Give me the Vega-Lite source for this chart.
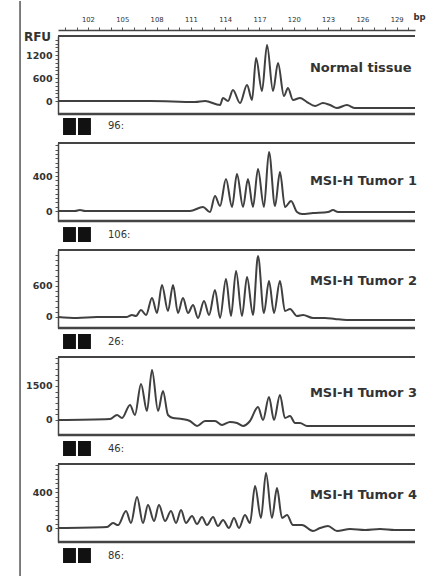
{
  "$schema": "https://vega.github.io/schema/vega-lite/v6.json",
  "background": "white",
  "padding": {"left": 19, "top": 0, "right": 0, "bottom": 0},
  "bounds": "flush",
  "spacing": 29,
  "resolve": {"scale": {"x": "independent", "y": "independent"}},
  "config": {"view": {"stroke": null}, "axis": {"grid": false, "labelOverlap": false}},
  "datasets": {
    "p1": [{"bp":99.38,"rfu":0},{"bp":107.43,"rfu":0},{"bp":111.36,"rfu":-26},{"bp":112.24,"rfu":0},{"bp":113.55,"rfu":-104},{"bp":113.81,"rfu":78},{"bp":114.25,"rfu":0},{"bp":114.68,"rfu":287},{"bp":115.3,"rfu":-52},{"bp":115.91,"rfu":418},{"bp":116.35,"rfu":26},{"bp":116.7,"rfu":1122},{"bp":117.22,"rfu":261},{"bp":117.66,"rfu":1462},{"bp":118.18,"rfu":261},{"bp":118.62,"rfu":992},{"bp":119.14,"rfu":130},{"bp":119.49,"rfu":339},{"bp":119.93,"rfu":26},{"bp":120.54,"rfu":78},{"bp":121.15,"rfu":-26},{"bp":121.86,"rfu":-130},{"bp":122.55,"rfu":-52},{"bp":123.17,"rfu":-104},{"bp":123.78,"rfu":-183},{"bp":124.65,"rfu":-104},{"bp":125.35,"rfu":-183},{"bp":130.6,"rfu":-183}],
    "p2": [{"bp":99.38,"rfu":0},{"bp":100.87,"rfu":0},{"bp":101.3,"rfu":11},{"bp":101.74,"rfu":0},{"bp":110.92,"rfu":0},{"bp":112.06,"rfu":46},{"bp":112.67,"rfu":-11},{"bp":113.11,"rfu":171},{"bp":113.55,"rfu":57},{"bp":114.07,"rfu":366},{"bp":114.6,"rfu":46},{"bp":115.03,"rfu":423},{"bp":115.56,"rfu":46},{"bp":115.99,"rfu":366},{"bp":116.43,"rfu":46},{"bp":116.87,"rfu":480},{"bp":117.39,"rfu":46},{"bp":117.83,"rfu":674},{"bp":118.36,"rfu":57},{"bp":118.79,"rfu":446},{"bp":119.23,"rfu":46},{"bp":119.76,"rfu":114},{"bp":120.28,"rfu":-11},{"bp":120.72,"rfu":-34},{"bp":121.68,"rfu":-23},{"bp":123.0,"rfu":-11},{"bp":123.43,"rfu":11},{"bp":123.87,"rfu":-11},{"bp":130.6,"rfu":-11}],
    "p3": [{"bp":99.38,"rfu":0},{"bp":101.04,"rfu":-19},{"bp":102.79,"rfu":0},{"bp":105.41,"rfu":0},{"bp":105.85,"rfu":39},{"bp":106.2,"rfu":19},{"bp":106.64,"rfu":135},{"bp":107.08,"rfu":39},{"bp":107.6,"rfu":368},{"bp":108.04,"rfu":77},{"bp":108.47,"rfu":619},{"bp":109.0,"rfu":116},{"bp":109.44,"rfu":619},{"bp":109.87,"rfu":77},{"bp":110.31,"rfu":368},{"bp":110.75,"rfu":77},{"bp":111.19,"rfu":232},{"bp":111.62,"rfu":-19},{"bp":112.15,"rfu":310},{"bp":112.59,"rfu":39},{"bp":113.11,"rfu":522},{"bp":113.55,"rfu":-19},{"bp":114.07,"rfu":735},{"bp":114.51,"rfu":19},{"bp":114.95,"rfu":890},{"bp":115.47,"rfu":19},{"bp":115.91,"rfu":774},{"bp":116.43,"rfu":39},{"bp":116.87,"rfu":1180},{"bp":117.39,"rfu":77},{"bp":117.83,"rfu":697},{"bp":118.27,"rfu":77},{"bp":118.79,"rfu":697},{"bp":119.23,"rfu":116},{"bp":119.67,"rfu":155},{"bp":120.28,"rfu":19},{"bp":120.81,"rfu":39},{"bp":121.68,"rfu":-19},{"bp":122.73,"rfu":-19},{"bp":123.6,"rfu":-39},{"bp":124.65,"rfu":-58},{"bp":130.6,"rfu":-58}],
    "p4": [{"bp":99.38,"rfu":0},{"bp":103.93,"rfu":44},{"bp":104.54,"rfu":220},{"bp":104.98,"rfu":88},{"bp":105.68,"rfu":662},{"bp":106.11,"rfu":220},{"bp":106.64,"rfu":1588},{"bp":107.16,"rfu":397},{"bp":107.6,"rfu":2205},{"bp":108.13,"rfu":397},{"bp":108.56,"rfu":1279},{"bp":109.0,"rfu":220},{"bp":109.44,"rfu":88},{"bp":110.22,"rfu":44},{"bp":110.92,"rfu":-44},{"bp":111.54,"rfu":-265},{"bp":112.24,"rfu":-44},{"bp":113.11,"rfu":-44},{"bp":113.72,"rfu":-220},{"bp":114.42,"rfu":-88},{"bp":115.03,"rfu":-132},{"bp":115.56,"rfu":-265},{"bp":116.17,"rfu":-44},{"bp":116.87,"rfu":573},{"bp":117.31,"rfu":0},{"bp":117.83,"rfu":1014},{"bp":118.27,"rfu":0},{"bp":118.79,"rfu":1103},{"bp":119.23,"rfu":88},{"bp":119.67,"rfu":176},{"bp":120.11,"rfu":-132},{"bp":120.54,"rfu":-132},{"bp":121.16,"rfu":-265},{"bp":130.6,"rfu":-265}],
    "p5": [{"bp":99.38,"rfu":0},{"bp":103.67,"rfu":11},{"bp":104.19,"rfu":56},{"bp":104.63,"rfu":33},{"bp":105.33,"rfu":189},{"bp":105.76,"rfu":56},{"bp":106.29,"rfu":344},{"bp":106.81,"rfu":56},{"bp":107.25,"rfu":255},{"bp":107.78,"rfu":78},{"bp":108.21,"rfu":255},{"bp":108.74,"rfu":78},{"bp":109.26,"rfu":189},{"bp":109.7,"rfu":56},{"bp":110.14,"rfu":200},{"bp":110.57,"rfu":56},{"bp":111.1,"rfu":133},{"bp":111.54,"rfu":44},{"bp":111.97,"rfu":122},{"bp":112.41,"rfu":33},{"bp":112.94,"rfu":122},{"bp":113.37,"rfu":22},{"bp":113.81,"rfu":89},{"bp":114.33,"rfu":0},{"bp":114.77,"rfu":111},{"bp":115.21,"rfu":0},{"bp":115.73,"rfu":144},{"bp":116.17,"rfu":56},{"bp":116.61,"rfu":466},{"bp":117.13,"rfu":111},{"bp":117.57,"rfu":611},{"bp":118.09,"rfu":111},{"bp":118.53,"rfu":444},{"bp":118.97,"rfu":111},{"bp":119.41,"rfu":144},{"bp":119.93,"rfu":33},{"bp":120.72,"rfu":33},{"bp":121.68,"rfu":-33},{"bp":122.29,"rfu":0},{"bp":122.99,"rfu":22},{"bp":123.78,"rfu":-33},{"bp":124.92,"rfu":-11},{"bp":126.23,"rfu":-22},{"bp":127.54,"rfu":-11},{"bp":128.85,"rfu":-22},{"bp":130.6,"rfu":-22}]
  },
  "vconcat": [
    {
      "width": 357, "height": 78,
      "resolve": {"axis": {"x": "independent", "y": "independent"}},
      "layer": [
        {"data": {"name": "p1"}, "mark": {"type": "line", "interpolate": "monotone", "color": "#404040", "strokeWidth": 2},
         "encoding": {
           "x": {"field": "bp", "type": "quantitative", "scale": {"domain": [99.38, 130.6], "nice": false, "zero": false},
                 "axis": {"orient": "top", "values": [100,101,102,103,104,105,106,107,108,109,110,111,112,113,114,115,116,117,118,119,120,121,122,123,124,125,126,127,128,129,130],
                          "labelExpr": "(datum.value-102)%3==0 ? datum.label : ''",
                          "labelOverlap": false, "labelFlush": false, "labelBound": false,
                          "offset": 6, "domainColor": "#444", "domainWidth": 1.5, "tickSize": 3, "tickColor": "#555", "tickWidth": 1,
                          "labelFont": "DejaVu Sans", "labelFontSize": 6.8, "labelColor": "#333", "labelPadding": 5,
                          "title": "bp", "titleX": 355, "titleY": -14, "titleAngle": 0, "titleAlign": "left", "titleBaseline": "middle",
                          "titleFont": "DejaVu Sans", "titleFontSize": 8.5, "titleFontWeight": "bold", "titleColor": "#333"}},
           "y": {"field": "rfu", "type": "quantitative", "scale": {"domain": [-339, 1697], "nice": false, "zero": false},
                 "axis": {"values": [0,100,200,300,400,500,600,700,800,900,1000,1100,1200,1300,1400,1500,1600], "format": "d",
                          "labelExpr": "datum.value % 600 == 0 ? datum.label : ''",
                          "labelOverlap": false, "labelBound": false,
                          "domainColor": "#444", "domainWidth": 1.5, "tickSize": 3, "tickColor": "#555",
                          "labelFont": "DejaVu Sans", "labelFontWeight": "bold", "labelFontSize": 9.5, "labelColor": "#333", "labelPadding": 3,
                          "title": "RFU", "titleX": -21, "titleY": 0, "titleAngle": 0, "titleAlign": "center", "titleBaseline": "middle",
                          "titleFont": "DejaVu Sans", "titleFontSize": 12, "titleFontWeight": "bold", "titleColor": "#333"}}
         }},
        {"data": {"values": [{}]}, "mark": {"type": "rule", "color": "#444", "strokeWidth": 2}, "encoding": {"y": {"datum": 1697, "axis": null}}},
        {"data": {"values": [{}]}, "mark": {"type": "rule", "color": "#444", "strokeWidth": 2.5}, "encoding": {"y": {"datum": -339, "axis": null}}},
        {"data": {"values": [{}]}, "mark": {"type": "rule", "color": "#555", "strokeWidth": 1.5}, "encoding": {"x": {"datum": 96.06, "axis": null}, "y": {"datum": 2610, "axis": null}, "y2": {"datum": -12398}}},
        {"data": {"values": [{}]}, "mark": {"type": "text", "align": "left", "baseline": "middle", "font": "DejaVu Sans", "fontWeight": "bold", "fontSize": 13, "color": "#333"}, "encoding": {"x": {"datum": 121.41, "axis": null}, "y": {"datum": 861, "axis": null}, "text": {"value": "Normal tissue"}}},
        {"data": {"values": [{}]}, "mark": {"type": "rect", "color": "#111"}, "encoding": {"x": {"datum": 99.82, "axis": null}, "x2": {"datum": 100.95}, "y": {"datum": -444, "axis": null}, "y2": {"datum": -887}}},
        {"data": {"values": [{}]}, "mark": {"type": "rect", "color": "#111"}, "encoding": {"x": {"datum": 101.13, "axis": null}, "x2": {"datum": 102.26}, "y": {"datum": -444, "axis": null}, "y2": {"datum": -887}}},
        {"data": {"values": [{}]}, "mark": {"type": "text", "align": "left", "baseline": "middle", "font": "DejaVu Sans", "fontSize": 10, "color": "#333"}, "encoding": {"x": {"datum": 103.75, "axis": null}, "y": {"datum": -652, "axis": null}, "text": {"value": "96:"}}}
      ]
    },
    {
      "width": 357, "height": 78,
      "resolve": {"axis": {"x": "independent", "y": "independent"}},
      "layer": [
        {"data": {"name": "p2"}, "mark": {"type": "line", "interpolate": "monotone", "color": "#404040", "strokeWidth": 2},
         "encoding": {
           "x": {"field": "bp", "type": "quantitative", "scale": {"domain": [99.38, 130.6], "nice": false, "zero": false}, "axis": null},
           "y": {"field": "rfu", "type": "quantitative", "scale": {"domain": [-114, 777], "nice": false, "zero": false},
                 "axis": {"values": [0,50,100,150,200,250,300,350,400,450,500,550,600,650,700,750], "format": "d",
                          "labelExpr": "datum.value % 400 == 0 ? datum.label : ''",
                          "labelOverlap": false, "labelBound": false,
                          "domainColor": "#444", "domainWidth": 1.5, "tickSize": 3, "tickColor": "#555",
                          "labelFont": "DejaVu Sans", "labelFontWeight": "bold", "labelFontSize": 9.5, "labelColor": "#333", "labelPadding": 3, "title": null}}
         }},
        {"data": {"values": [{}]}, "mark": {"type": "rule", "color": "#444", "strokeWidth": 2}, "encoding": {"y": {"datum": 777, "axis": null}}},
        {"data": {"values": [{}]}, "mark": {"type": "rule", "color": "#444", "strokeWidth": 2.5}, "encoding": {"y": {"datum": -114, "axis": null}}},
        {"data": {"values": [{}]}, "mark": {"type": "text", "align": "left", "baseline": "middle", "font": "DejaVu Sans", "fontWeight": "bold", "fontSize": 13, "color": "#333"}, "encoding": {"x": {"datum": 121.41, "axis": null}, "y": {"datum": 343, "axis": null}, "text": {"value": "MSI-H Tumor 1"}}},
        {"data": {"values": [{}]}, "mark": {"type": "rect", "color": "#111"}, "encoding": {"x": {"datum": 99.82, "axis": null}, "x2": {"datum": 100.95}, "y": {"datum": -183, "axis": null}, "y2": {"datum": -354}}},
        {"data": {"values": [{}]}, "mark": {"type": "rect", "color": "#111"}, "encoding": {"x": {"datum": 101.13, "axis": null}, "x2": {"datum": 102.26}, "y": {"datum": -183, "axis": null}, "y2": {"datum": -354}}},
        {"data": {"values": [{}]}, "mark": {"type": "text", "align": "left", "baseline": "middle", "font": "DejaVu Sans", "fontSize": 10, "color": "#333"}, "encoding": {"x": {"datum": 103.75, "axis": null}, "y": {"datum": -274, "axis": null}, "text": {"value": "106:"}}}
      ]
    },
    {
      "width": 357, "height": 78,
      "resolve": {"axis": {"x": "independent", "y": "independent"}},
      "layer": [
        {"data": {"name": "p3"}, "mark": {"type": "line", "interpolate": "monotone", "color": "#404040", "strokeWidth": 2},
         "encoding": {
           "x": {"field": "bp", "type": "quantitative", "scale": {"domain": [99.38, 130.6], "nice": false, "zero": false}, "axis": null},
           "y": {"field": "rfu", "type": "quantitative", "scale": {"domain": [-213, 1296], "nice": false, "zero": false},
                 "axis": {"values": [0,100,200,300,400,500,600,700,800,900,1000,1100,1200], "format": "d",
                          "labelExpr": "datum.value == 0 || datum.value == 600 ? datum.label : ''",
                          "labelOverlap": false, "labelBound": false,
                          "domainColor": "#444", "domainWidth": 1.5, "tickSize": 3, "tickColor": "#555",
                          "labelFont": "DejaVu Sans", "labelFontWeight": "bold", "labelFontSize": 9.5, "labelColor": "#333", "labelPadding": 3, "title": null}}
         }},
        {"data": {"values": [{}]}, "mark": {"type": "rule", "color": "#444", "strokeWidth": 2}, "encoding": {"y": {"datum": 1296, "axis": null}}},
        {"data": {"values": [{}]}, "mark": {"type": "rule", "color": "#444", "strokeWidth": 2.5}, "encoding": {"y": {"datum": -213, "axis": null}}},
        {"data": {"values": [{}]}, "mark": {"type": "text", "align": "left", "baseline": "middle", "font": "DejaVu Sans", "fontWeight": "bold", "fontSize": 13, "color": "#333"}, "encoding": {"x": {"datum": 121.41, "axis": null}, "y": {"datum": 697, "axis": null}, "text": {"value": "MSI-H Tumor 2"}}},
        {"data": {"values": [{}]}, "mark": {"type": "rect", "color": "#111"}, "encoding": {"x": {"datum": 99.82, "axis": null}, "x2": {"datum": 100.95}, "y": {"datum": -329, "axis": null}, "y2": {"datum": -619}}},
        {"data": {"values": [{}]}, "mark": {"type": "rect", "color": "#111"}, "encoding": {"x": {"datum": 101.13, "axis": null}, "x2": {"datum": 102.26}, "y": {"datum": -329, "axis": null}, "y2": {"datum": -619}}},
        {"data": {"values": [{}]}, "mark": {"type": "text", "align": "left", "baseline": "middle", "font": "DejaVu Sans", "fontSize": 10, "color": "#333"}, "encoding": {"x": {"datum": 103.75, "axis": null}, "y": {"datum": -484, "axis": null}, "text": {"value": "26:"}}}
      ]
    },
    {
      "width": 357, "height": 78,
      "resolve": {"axis": {"x": "independent", "y": "independent"}},
      "layer": [
        {"data": {"name": "p4"}, "mark": {"type": "line", "interpolate": "monotone", "color": "#404040", "strokeWidth": 2},
         "encoding": {
           "x": {"field": "bp", "type": "quantitative", "scale": {"domain": [99.38, 130.6], "nice": false, "zero": false}, "axis": null},
           "y": {"field": "rfu", "type": "quantitative", "scale": {"domain": [-662, 2778], "nice": false, "zero": false},
                 "axis": {"values": [0,250,500,750,1000,1250,1500,1750,2000,2250,2500,2750], "format": "d",
                          "labelExpr": "datum.value % 1500 == 0 ? datum.label : ''",
                          "labelOverlap": false, "labelBound": false,
                          "domainColor": "#444", "domainWidth": 1.5, "tickSize": 3, "tickColor": "#555",
                          "labelFont": "DejaVu Sans", "labelFontWeight": "bold", "labelFontSize": 9.5, "labelColor": "#333", "labelPadding": 3, "title": null}}
         }},
        {"data": {"values": [{}]}, "mark": {"type": "rule", "color": "#444", "strokeWidth": 2}, "encoding": {"y": {"datum": 2778, "axis": null}}},
        {"data": {"values": [{}]}, "mark": {"type": "rule", "color": "#444", "strokeWidth": 2.5}, "encoding": {"y": {"datum": -662, "axis": null}}},
        {"data": {"values": [{}]}, "mark": {"type": "text", "align": "left", "baseline": "middle", "font": "DejaVu Sans", "fontWeight": "bold", "fontSize": 13, "color": "#333"}, "encoding": {"x": {"datum": 121.41, "axis": null}, "y": {"datum": 1191, "axis": null}, "text": {"value": "MSI-H Tumor 3"}}},
        {"data": {"values": [{}]}, "mark": {"type": "rect", "color": "#111"}, "encoding": {"x": {"datum": 99.82, "axis": null}, "x2": {"datum": 100.95}, "y": {"datum": -927, "axis": null}, "y2": {"datum": -1588}}},
        {"data": {"values": [{}]}, "mark": {"type": "rect", "color": "#111"}, "encoding": {"x": {"datum": 101.13, "axis": null}, "x2": {"datum": 102.26}, "y": {"datum": -927, "axis": null}, "y2": {"datum": -1588}}},
        {"data": {"values": [{}]}, "mark": {"type": "text", "align": "left", "baseline": "middle", "font": "DejaVu Sans", "fontSize": 10, "color": "#333"}, "encoding": {"x": {"datum": 103.75, "axis": null}, "y": {"datum": -1279, "axis": null}, "text": {"value": "46:"}}}
      ]
    },
    {
      "width": 357, "height": 78,
      "resolve": {"axis": {"x": "independent", "y": "independent"}},
      "layer": [
        {"data": {"name": "p5"}, "mark": {"type": "line", "interpolate": "monotone", "color": "#404040", "strokeWidth": 2},
         "encoding": {
           "x": {"field": "bp", "type": "quantitative", "scale": {"domain": [99.38, 130.6], "nice": false, "zero": false}, "axis": null},
           "y": {"field": "rfu", "type": "quantitative", "scale": {"domain": [-155, 711], "nice": false, "zero": false},
                 "axis": {"values": [0,50,100,150,200,250,300,350,400,450,500,550,600,650,700], "format": "d",
                          "labelExpr": "datum.value % 400 == 0 ? datum.label : ''",
                          "labelOverlap": false, "labelBound": false,
                          "domainColor": "#444", "domainWidth": 1.5, "tickSize": 3, "tickColor": "#555",
                          "labelFont": "DejaVu Sans", "labelFontWeight": "bold", "labelFontSize": 9.5, "labelColor": "#333", "labelPadding": 3, "title": null}}
         }},
        {"data": {"values": [{}]}, "mark": {"type": "rule", "color": "#444", "strokeWidth": 2}, "encoding": {"y": {"datum": 711, "axis": null}}},
        {"data": {"values": [{}]}, "mark": {"type": "rule", "color": "#444", "strokeWidth": 2.5}, "encoding": {"y": {"datum": -155, "axis": null}}},
        {"data": {"values": [{}]}, "mark": {"type": "text", "align": "left", "baseline": "middle", "font": "DejaVu Sans", "fontWeight": "bold", "fontSize": 13, "color": "#333"}, "encoding": {"x": {"datum": 121.41, "axis": null}, "y": {"datum": 366, "axis": null}, "text": {"value": "MSI-H Tumor 4"}}},
        {"data": {"values": [{}]}, "mark": {"type": "rect", "color": "#111"}, "encoding": {"x": {"datum": 99.82, "axis": null}, "x2": {"datum": 100.95}, "y": {"datum": -222, "axis": null}, "y2": {"datum": -388}}},
        {"data": {"values": [{}]}, "mark": {"type": "rect", "color": "#111"}, "encoding": {"x": {"datum": 101.13, "axis": null}, "x2": {"datum": 102.26}, "y": {"datum": -222, "axis": null}, "y2": {"datum": -388}}},
        {"data": {"values": [{}]}, "mark": {"type": "text", "align": "left", "baseline": "middle", "font": "DejaVu Sans", "fontSize": 10, "color": "#333"}, "encoding": {"x": {"datum": 103.75, "axis": null}, "y": {"datum": -310, "axis": null}, "text": {"value": "86:"}}}
      ]
    }
  ]
}
